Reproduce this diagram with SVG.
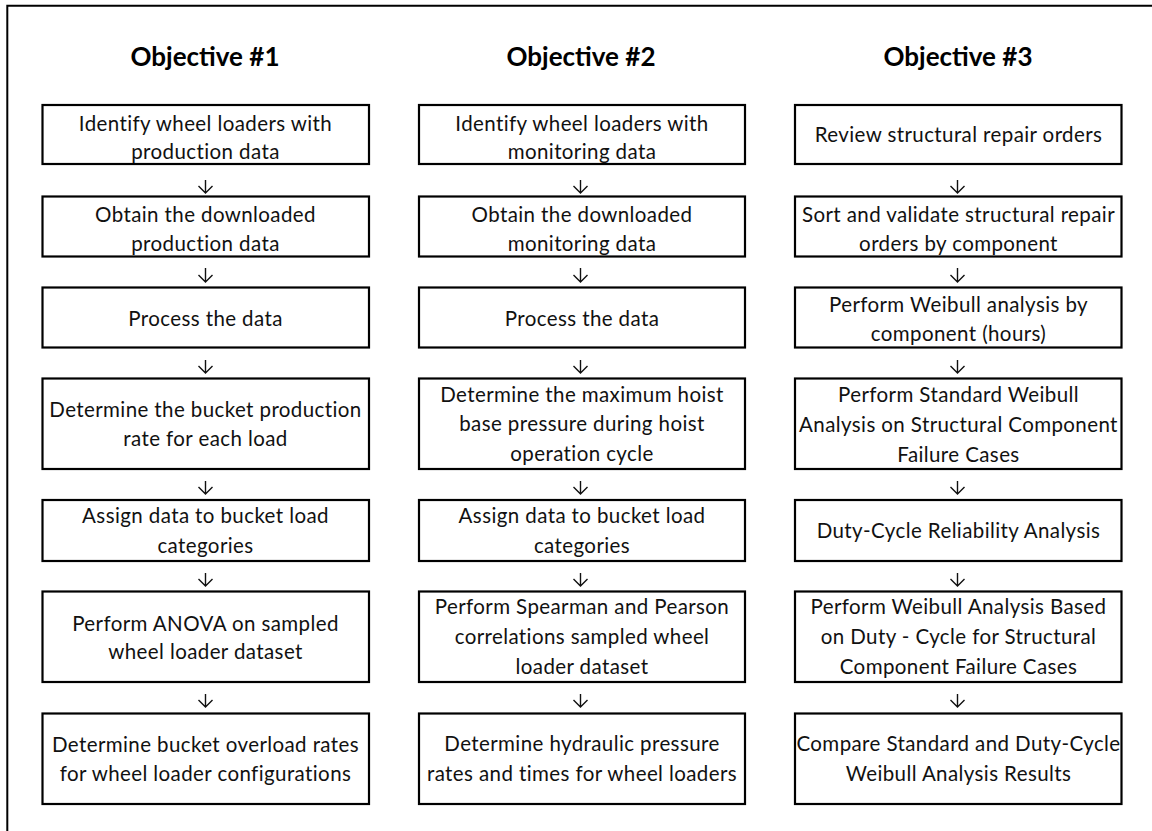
<svg xmlns="http://www.w3.org/2000/svg" width="1152" height="831" viewBox="0 0 1152 831">
<style>
.bg{fill:#fff}
.frame{fill:none;stroke:#000;stroke-width:2}
.box{fill:#fff;stroke:#000;stroke-width:2.2}
.t{font-family:Lato,"Liberation Sans",sans-serif;font-size:20.5px;letter-spacing:0.4px;fill:#111;text-anchor:middle}
.h{font-family:Lato,"Liberation Sans",sans-serif;font-size:26px;font-weight:bold;fill:#000;text-anchor:middle}
.arr{fill:none;stroke:#111;stroke-width:1.4}
</style>
<rect class="bg" x="0" y="0" width="1152" height="831"/>
<path class="frame" d="M7.3 831 V5.7 H1152"/>

<g id="headers">
<text class="h" x="205" y="66">Objective #1</text>
<text class="h" x="581" y="66">Objective #2</text>
<text class="h" x="958" y="66">Objective #3</text>
</g>

<g id="connectors">
<path class="arr" d="M205.5 180 V193 M198.5 186 L205.5 193 L212.5 186"/>
<path class="arr" d="M205.5 268 V282 M198.5 275 L205.5 282 L212.5 275"/>
<path class="arr" d="M205.5 360 V373 M198.5 366 L205.5 373 L212.5 366"/>
<path class="arr" d="M205.5 481 V494 M198.5 487 L205.5 494 L212.5 487"/>
<path class="arr" d="M205.5 573 V586 M198.5 579 L205.5 586 L212.5 579"/>
<path class="arr" d="M205.5 694 V707 M198.5 700 L205.5 707 L212.5 700"/>

<path class="arr" d="M580.5 180 V193 M573.5 186 L580.5 193 L587.5 186"/>
<path class="arr" d="M580.5 268 V282 M573.5 275 L580.5 282 L587.5 275"/>
<path class="arr" d="M580.5 360 V373 M573.5 366 L580.5 373 L587.5 366"/>
<path class="arr" d="M580.5 481 V494 M573.5 487 L580.5 494 L587.5 487"/>
<path class="arr" d="M580.5 573 V586 M573.5 579 L580.5 586 L587.5 579"/>
<path class="arr" d="M580.5 694 V707 M573.5 700 L580.5 707 L587.5 700"/>

<path class="arr" d="M957.5 180 V193 M950.5 186 L957.5 193 L964.5 186"/>
<path class="arr" d="M957.5 268 V282 M950.5 275 L957.5 282 L964.5 275"/>
<path class="arr" d="M957.5 360 V373 M950.5 366 L957.5 373 L964.5 366"/>
<path class="arr" d="M957.5 481 V494 M950.5 487 L957.5 494 L964.5 487"/>
<path class="arr" d="M957.5 573 V586 M950.5 579 L957.5 586 L964.5 579"/>
<path class="arr" d="M957.5 694 V707 M950.5 700 L957.5 707 L964.5 700"/>
</g>

<g id="o1-n1"><rect class="box" x="42.5" y="105" width="326.5" height="59"/>
<text class="t" x="205.5" y="130.5">Identify wheel loaders with</text><text class="t" x="205.5" y="158.5">production data</text></g>
<g id="o1-n2"><rect class="box" x="42.5" y="196.5" width="326.5" height="60"/>
<text class="t" x="205.5" y="221.5">Obtain the downloaded</text><text class="t" x="205.5" y="250.5">production data</text></g>
<g id="o1-n3"><rect class="box" x="42.5" y="287.5" width="326.5" height="60"/>
<text class="t" x="205.5" y="326">Process the data</text></g>
<g id="o1-n4"><rect class="box" x="42.5" y="378.5" width="326.5" height="90.5"/>
<text class="t" x="205.5" y="416.7">Determine the bucket production</text><text class="t" x="205.5" y="446">rate for each load</text></g>
<g id="o1-n5"><rect class="box" x="42.5" y="500" width="326.5" height="61"/>
<text class="t" x="205.5" y="523">Assign data to bucket load</text><text class="t" x="205.5" y="553">categories</text></g>
<g id="o1-n6"><rect class="box" x="42.5" y="591.5" width="326.5" height="90.5"/>
<text class="t" x="205.5" y="630.7">Perform ANOVA on sampled</text><text class="t" x="205.5" y="659.3">wheel loader dataset</text></g>
<g id="o1-n7"><rect class="box" x="42.5" y="713.5" width="326.5" height="90.5"/>
<text class="t" x="205.5" y="752">Determine bucket overload rates</text><text class="t" x="205.5" y="780.7">for wheel loader configurations</text></g>

<g id="o2-n1"><rect class="box" x="419" y="105" width="326" height="59"/>
<text class="t" x="582" y="130.5">Identify wheel loaders with</text><text class="t" x="582" y="158.5">monitoring data</text></g>
<g id="o2-n2"><rect class="box" x="419" y="196.5" width="326" height="60"/>
<text class="t" x="582" y="221.5">Obtain the downloaded</text><text class="t" x="582" y="250.5">monitoring data</text></g>
<g id="o2-n3"><rect class="box" x="419" y="287.5" width="326" height="60"/>
<text class="t" x="582" y="326">Process the data</text></g>
<g id="o2-n4"><rect class="box" x="419" y="378.5" width="326" height="90.5"/>
<text class="t" x="582" y="401.7">Determine the maximum hoist</text><text class="t" x="582" y="431">base pressure during hoist</text><text class="t" x="582" y="461">operation cycle</text></g>
<g id="o2-n5"><rect class="box" x="419" y="500" width="326" height="61"/>
<text class="t" x="582" y="523">Assign data to bucket load</text><text class="t" x="582" y="553">categories</text></g>
<g id="o2-n6"><rect class="box" x="419" y="591.5" width="326" height="90.5"/>
<text class="t" x="582" y="614">Perform Spearman and Pearson</text><text class="t" x="582" y="644">correlations sampled wheel</text><text class="t" x="582" y="674">loader dataset</text></g>
<g id="o2-n7"><rect class="box" x="419" y="713.5" width="326" height="90.5"/>
<text class="t" x="582" y="751">Determine hydraulic pressure</text><text class="t" x="582" y="780.7">rates and times for wheel loaders</text></g>

<g id="o3-n1"><rect class="box" x="795" y="105" width="326.5" height="59"/>
<text class="t" x="958.5" y="141.7">Review structural repair orders</text></g>
<g id="o3-n2"><rect class="box" x="795" y="196.5" width="326.5" height="60"/>
<text class="t" x="958.5" y="221.5">Sort and validate structural repair</text><text class="t" x="958.5" y="250.5">orders by component</text></g>
<g id="o3-n3"><rect class="box" x="795" y="287.5" width="326.5" height="60"/>
<text class="t" x="958.5" y="311.7">Perform Weibull analysis by</text><text class="t" x="958.5" y="341">component (hours)</text></g>
<g id="o3-n4"><rect class="box" x="795" y="378.5" width="326.5" height="90.5"/>
<text class="t" x="958.5" y="402.3">Perform Standard Weibull</text><text class="t" x="958.5" y="431.7">Analysis on Structural Component</text><text class="t" x="958.5" y="461.7">Failure Cases</text></g>
<g id="o3-n5"><rect class="box" x="795" y="500" width="326.5" height="61"/>
<text class="t" x="958.5" y="538.3">Duty-Cycle Reliability Analysis</text></g>
<g id="o3-n6"><rect class="box" x="795" y="591.5" width="326.5" height="90.5"/>
<text class="t" x="958.5" y="614">Perform Weibull Analysis Based</text><text class="t" x="958.5" y="644">on Duty - Cycle for Structural</text><text class="t" x="958.5" y="674">Component Failure Cases</text></g>
<g id="o3-n7"><rect class="box" x="795" y="713.5" width="326.5" height="90.5"/>
<text class="t" x="958.5" y="750.7">Compare Standard and Duty-Cycle</text><text class="t" x="958.5" y="780.7">Weibull Analysis Results</text></g>
</svg>
